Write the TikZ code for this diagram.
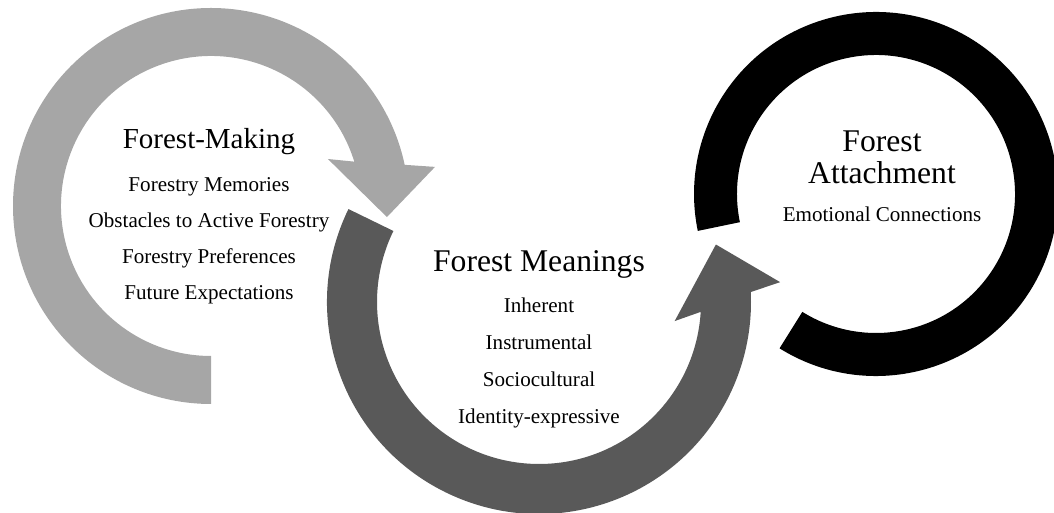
\documentclass[tikz,border=0pt]{standalone}
\usepackage{fontspec}
\setmainfont{Liberation Serif}
\definecolor{makinggray}{HTML}{A6A6A6}
\definecolor{meaninggray}{HTML}{595959}
\tikzset{
  heading/.style={anchor=base, font=\fontsize{18}{20}\selectfont},
  item/.style={anchor=base, font=\fontsize{12}{14}\selectfont},
}

\begin{document}
\begin{tikzpicture}[x=0.02cm,y=0.02cm]
\useasboundingbox (0,0) rectangle (1054,513);

% forest-making: clockwise arrow, head at the right
\fill[makinggray, shift={(211,307)}]
  (270:198) arc[start angle=270, end angle=12, radius=198]
  -- (9.9:227.4) -- (-3.6:176.3) -- (21.9:126) -- (17.2:150)
  arc[start angle=17.2, end angle=270, radius=150] -- cycle;

% forest meanings: counter-clockwise arrow, head up-right
\fill[meaninggray, shift={(539,211)}]
  (154:212) arc[start angle=154, end angle=362.7, radius=212]
  -- (364.7:242) -- (378:186) -- (352:137) -- (356.5:162)
  arc[start angle=356.5, end angle=154, radius=162] -- cycle;

% forest attachment: open ring
\fill[black, shift={(876,319)}]
  (238:182) arc[start angle=238, end angle=551.7, radius=182]
  -- (551.7:139) arc[start angle=551.7, end angle=238, radius=139] -- cycle;

\node[heading, font=\fontsize{16.5}{18}\selectfont] (making) at (209,364) {Forest-Making};
\foreach \txt [count=\i] in {Forestry Memories, Obstacles to Active Forestry,
    Forestry Preferences, Future Expectations}
  \node[item] (making-\i) at (209,357-36*\i) {\txt};

\node[heading] (meanings) at (539,241) {Forest Meanings};
\foreach \txt [count=\i] in {Inherent, Instrumental, Sociocultural, Identity-expressive}
  \node[item] (meanings-\i) at (539,237-37*\i) {\txt};

\node[heading] (attach-top) at (882,361) {Forest};
\node[heading] (attach) at (882,329) {Attachment};
\node[item] (attach-1) at (882,291) {Emotional Connections};
\end{tikzpicture}
\end{document}
